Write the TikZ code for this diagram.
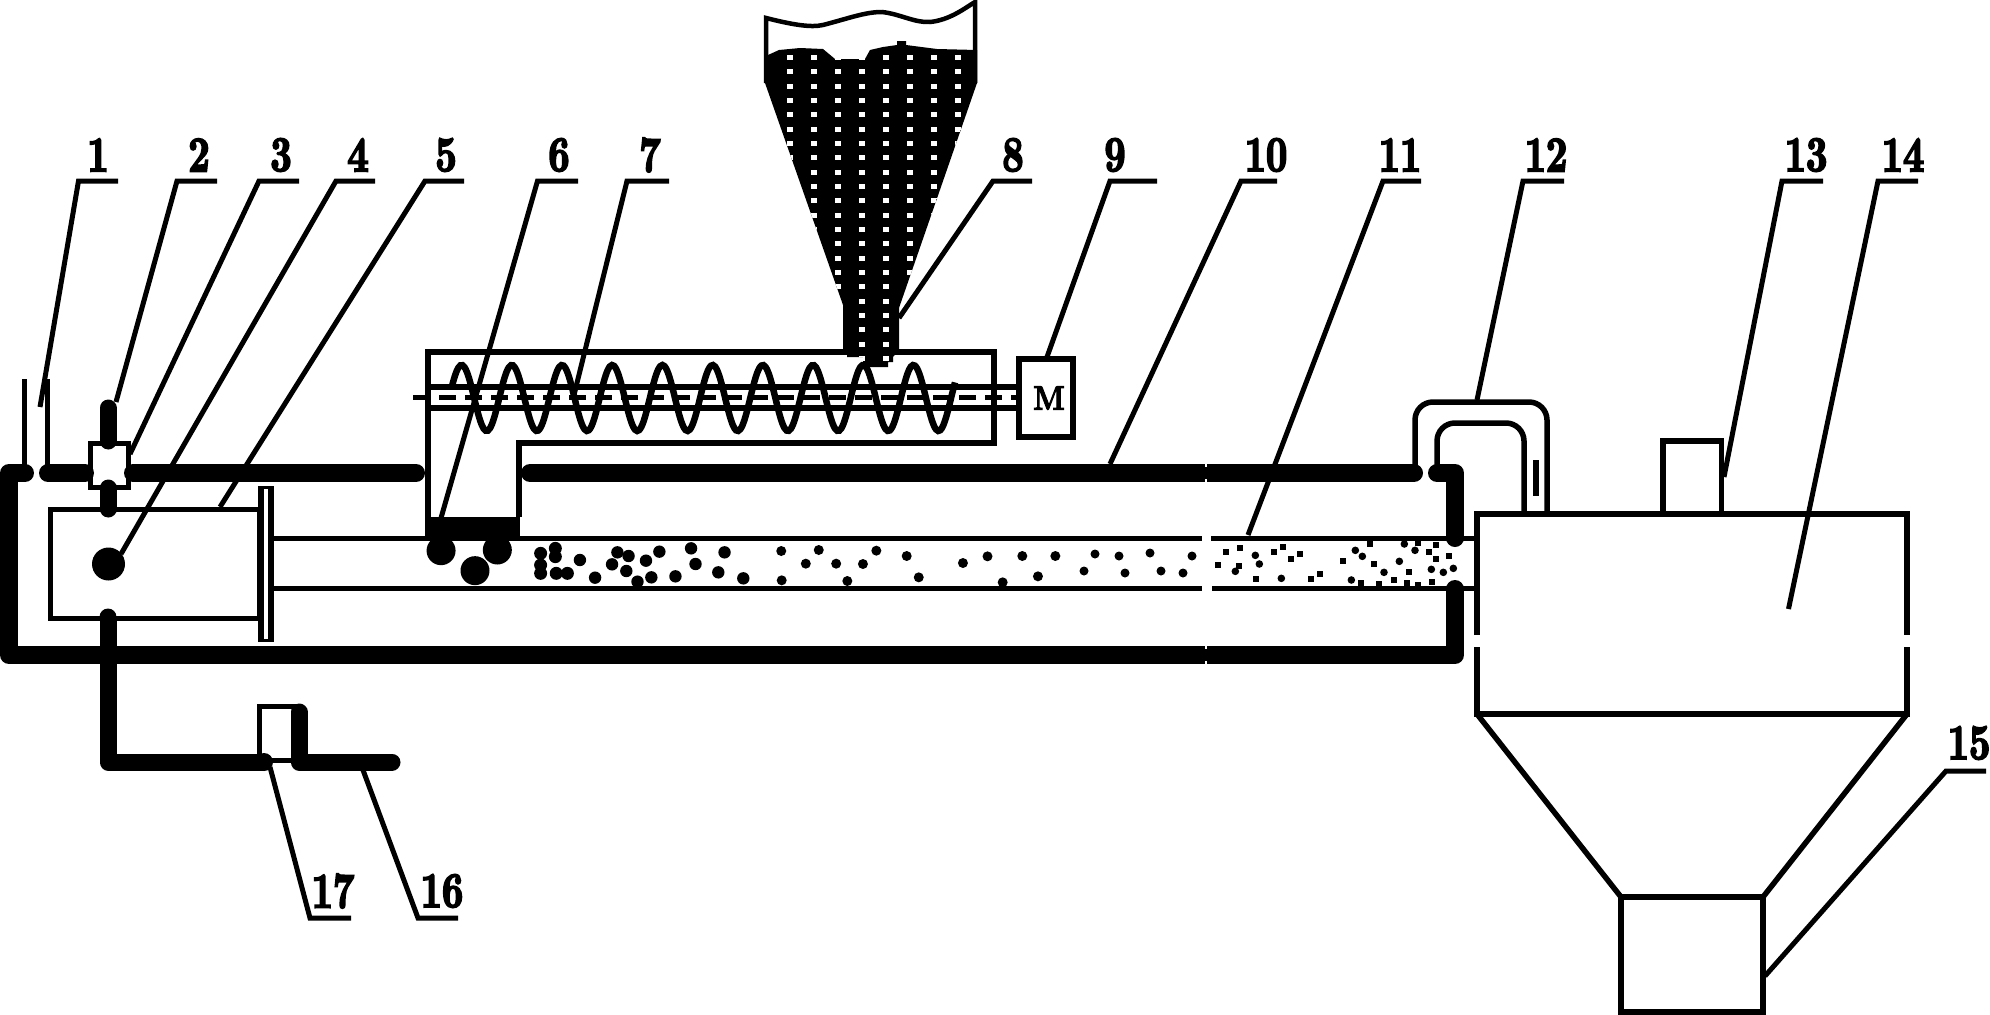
\documentclass[tikz,border=0pt]{standalone}
\usepackage{fontspec}
\newfontfamily\numfont[Extension=.otf,FakeStretch=0.74,FakeBold=3.5]{lmroman10-bold}
\newfontfamily\motorfont[Extension=.otf,FakeStretch=0.85,FakeBold=3]{lmroman10-bold}
\tikzset{
  thinwall/.style={draw,line width=5pt},
  heavywall/.style={draw,line width=5.5pt},
  jacket/.style={draw,line width=18pt,line cap=round,line join=round},
  leader/.style={draw,line width=5pt},
  numlabel/.style={inner sep=0pt,font=\numfont\fontsize{50}{50}\selectfont},
}
\begin{document}
\begin{tikzpicture}[x=1pt,y=-1pt]
\useasboundingbox (0,0) rectangle (1990,1015);
\fill[white] (0,0) rectangle (1990,1015);

\draw[thinwall] (24,379)--(24,473);
\draw[thinwall] (47.5,379)--(47.5,473);
\draw[thinwall] (90,443) rectangle (128,487);
\draw[thinwall] (50,509) rectangle (259,618);
\fill (258,486) rectangle (264,642);
\fill (268,486) rectangle (274,642);
\fill (258,486) rectangle (274,489);
\fill (258,639) rectangle (274,642);

\draw[thinwall] (274,538)--(1202,538);
\draw[thinwall] (274,588)--(1202,588);
\draw[thinwall] (1211,538)--(1477,538);
\draw[thinwall] (1212,588)--(1477,588);

\draw[jacket] (25,473)--(9,473)--(9,655)--(1455,655)--(1455,589);
\draw[jacket] (48,473)--(85,473);
\draw[jacket] (133,473)--(416,473);
\draw[jacket] (530,473)--(1414,473);
\draw[jacket] (1437,473)--(1455,473)--(1455,538);
\foreach \y/\d in {464/3,482/-3,646/3,664/-3}
  \draw[white,line width=2pt] (1206,\y)--(1206,\y+\d);

\draw[jacket,line width=17pt] (108,408)--(108,441);
\draw[jacket,line width=17pt] (108,488)--(108,509);
\draw[jacket,line width=17pt,line cap=butt] (108,618)--(108,762)--(264,762);
\fill (108,617) circle (8.5);
\fill (264,762) circle (9);
\draw[thinwall] (299,760)--(259,760)--(259,706)--(299,706);
\draw[jacket,line width=17pt] (299,712)--(299,762)--(392,762);
\fill (108.5,564) circle (16.5);

\fill (425,517) rectangle (520,537);
\draw[heavywall] (428,517)--(428,352)--(994,352)--(994,443)--(519,443)--(519,517);
\draw[heavywall] (428,387)--(1016,387);
\draw[heavywall] (428,408)--(1016,408);
\draw[line width=5pt,dash pattern=on 17pt off 9pt] (413,397)--(1016,397);
\draw[line width=6.5pt] plot[smooth,domain=452:955,samples=240] (\x,{398-33*cos(7.171*(\x-461.6))});
\node[heavywall,minimum width=54pt,minimum height=78pt,inner sep=0pt] (motor) at (1046,398) {};
\node[numlabel,font=\motorfont\fontsize{34}{34}\selectfont] (motorM) at (1049,398) {M};

\draw[line width=4.5pt] (766,83)--(766,18) .. controls (790,24) and (810,28) .. (823,25) .. controls (850,18) and (865,12) .. (882,12) .. controls (900,14) and (915,23) .. (930,22) .. controls (950,20) and (965,8) .. (975,2)--(975,83);
\begin{scope}
\path[clip] (768,55)--(779,50)--(800,48)--(823,49)--(835,59)--(865,59)--(870,50)--(883,47)--(897,45)--(897,41)--(906,41)--(906,45)--(937,49)--(977,50)--(977,83)--(899,308)--(899,350)--(893,357)--(893,362)--(888,362)--(888,367)--(863,367)--(863,357)--(847,357)--(847,350)--(843,350)--(843,305)--(765,83)--(765,55)--cycle;
\fill (760,38) rectangle (980,370);
\foreach \c in {0,...,7}
  \foreach \r in {0,...,21}
    \fill[white] ({790+24*\c-3},{57.3+14.35*\r-2.5}) rectangle ++(6,5);
\end{scope}

\foreach \a/\b in {92/752,218/750,168/812}
  \fill ({400+\a/2.24},{300+\b/3}) circle (14.5);
\foreach \a/\b in {315/760,348/745,348/770,315/795,315/820,350/820,375/820}
  \fill ({400+\a/2.24},{300+\b/3}) circle (6.5);
\foreach \a/\b in {403/780,437/833,487/757,512/768,475/793,507/813,532/845,563/832,551/782,581/755,617/829,652/745,662/792,727/757,713/817,769/835}
  \fill ({400+\a/2.24},{300+\b/3}) circle (6.2);
\foreach \a/\b in {854/753,855/841,909/791,938/750,977/791,1037/792,1067/752,1002/843,1135/768,1162/832,1261/789,1316/769,1350/847,1394/768,1429/829,1468/768}
  \fill ({400+\a/2.24},{300+\b/3}) circle (5);
\foreach \a/\b in {1095/554,1084/571,1119/556,1125/573,1150/553,1161/571,1183/573,1192/556}
  \fill (\a,\b) circle (4.5);
\foreach \a/\b in {226/526,238/552,166/574,304/595,514/600,526/511,547/529,673/492,705/511,658/544,754/568,790/577,820/565,612/577}
  \fill ({1180+\a/3},{380+\b/3}) circle (3.8);
\foreach \a/\b in {138/515,180/503,115/554,178/557,282/515,309/500,334/536,360/521,228/596,393/596,420/581,489/542,543/608,571/491,582/551,642/599,597/613,681/610,687/577,713/490,747/515,767/494,768/536,807/527,756/605,714/616}
  \fill ({1180+\a/3-3},{380+\b/3-3}) rectangle ++(6,6);

\draw[heavywall,rounded corners=18pt] (1415,465)--(1415,402)--(1547,402)--(1547,513);
\draw[heavywall,rounded corners=18pt] (1437,465)--(1437,423)--(1524,423)--(1524,513);
\draw[heavywall] (1536,460)--(1536,496);
\draw[heavywall] (1663,514)--(1663,441)--(1721.5,441)--(1721.5,514);
\draw[heavywall] (1477,635)--(1477,514)--(1907,514)--(1907,635);
\draw[heavywall] (1477,647)--(1477,714)--(1907,714)--(1907,647);
\draw[heavywall] (1477,714)--(1621,897);
\draw[heavywall] (1907,714)--(1763,897);
\draw[heavywall] (1621,897) rectangle (1763,1012);

\foreach \n/\lx/\ly/\sx/\sy/\cx/\cy/\ex in {
  1/98/155/40/407/78.5/181/118,
  2/199/155/116/402/177/181/217,
  3/281/155/130/454/259/181/299,
  4/358/155/121/554/336/181/375,
  5/446/155/220/507/425/181/464,
  6/559/155/441/518/537.5/181/578,
  7/650/155/574/395/627/181/669,
  8/1013/155/899/318/993/181/1032,
  9/1115/155/1047/357/1110/181/1157,
  10/1266/155/1110/464/1241/181/1277,
  11/1400/155/1248/535/1383/181/1421,
  12/1546/155/1477/400/1523/181/1564,
  13/1806/155/1724/477/1782/181/1823,
  14/1903/155/1788.5/609/1878/181/1918,
  15/1969/743/1765/976/1946/771/1986,
  17/333/891/270/767/310/918/351,
  16/442/891/363/770/418/918/458}{
  \coordinate (part\n) at (\sx,\sy);
  \node[numlabel] (num\n) at (\lx,\ly) {\n};
  \draw[leader] (part\n)--(\cx,\cy)--(\ex,\cy);
}
\end{tikzpicture}
\end{document}
